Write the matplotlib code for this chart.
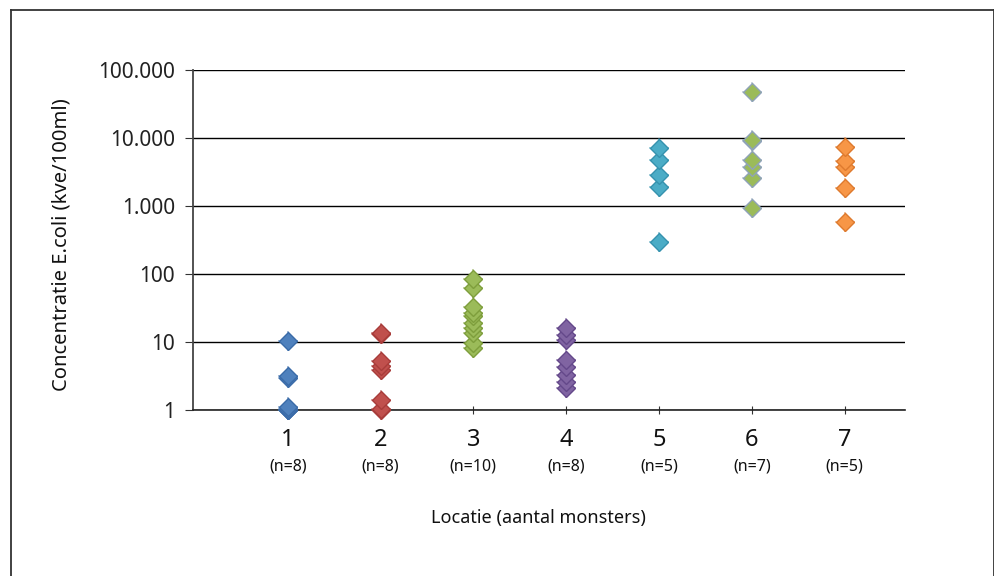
import matplotlib
matplotlib.use("Agg")
import matplotlib.pyplot as plt
from matplotlib.lines import Line2D
from matplotlib.ticker import FixedLocator, NullLocator

# values (kve/100ml)
loc1 = [1.0, 1.0, 1.0, 1.05, 1.1, 3.0, 3.2, 10.5]
loc2 = [1.0, 1.05, 1.4, 3.9, 4.5, 5.2, 13.0, 13.5]
loc3 = [8.3, 9.8, 13.5, 16, 19, 24, 27, 33, 62, 85]
loc4 = [2.1, 2.6, 3.3, 4.3, 5.4, 10.7, 12.5, 16]
loc5 = [295, 1900, 2850, 4700, 7100]
loc6 = [930, 2600, 3700, 4700, 9000, 9500, 47000]
loc7 = [580, 1850, 3700, 4600, 7300]
series = [loc1, loc2, loc3, loc4, loc5, loc6, loc7]
counts = ["(n=8)", "(n=8)", "(n=10)", "(n=8)", "(n=5)", "(n=7)", "(n=5)"]
fills = ["#4F81BD", "#C0504D", "#9BBB59", "#8064A2", "#4BACC6", "#9BBB59", "#F79646"]
edges = ["#3A6BA8", "#A83C3A", "#7E9E3C", "#64488A", "#3592AE", "#8FA3B8", "#DE7A2E"]
yticks = [1, 10, 100, 1000, 10000, 100000]
ylabels = ["1", "10", "100", "1.000", "10.000", "100.000"]

plt.rcParams['font.family'] = ['Noto Sans', 'DejaVu Sans']

fig = plt.figure(figsize=(9.95, 5.76), dpi=100)
ax = fig.add_axes([0.194, 0.288, 0.7155, 0.5905])

for i, vals in enumerate(series):
    xs = [i + 1] * len(vals)
    ax.plot(xs, vals, linestyle='none', marker='+', markersize=14,
            markeredgewidth=1.2, color=edges[i], alpha=0.55, zorder=3,
            clip_on=False)
    ax.plot(xs, vals, linestyle='none', marker='D', markersize=9.5,
            markerfacecolor=fills[i], markeredgecolor=edges[i],
            markeredgewidth=1.0, zorder=4, clip_on=False)

ax.set_yscale('log')
ax.set_ylim(1, 100000)
ax.set_xlim(-0.02, 7.65)
ax.yaxis.set_major_locator(FixedLocator(yticks))
ax.yaxis.set_minor_locator(NullLocator())
ax.set_yticklabels(ylabels, fontsize=15, color='#222222')
ax.set_xticks(range(1, 8))
ax.set_xticklabels([])
ax.tick_params(axis='x', direction='inout', length=6, color='#333333')
ax.tick_params(axis='y', direction='out', length=6, color='#333333', pad=7)
ax.grid(axis='y', color='black', linewidth=1.0)
ax.set_axisbelow(True)
for s in ['top', 'right']:
    ax.spines[s].set_visible(False)
ax.spines['bottom'].set_color('#222222')
ax.spines['bottom'].set_linewidth(1.2)
ax.spines['left'].set_color('#444444')
ax.spines['left'].set_linewidth(1.3)

for i in range(7):
    ax.text(i + 1, -0.088, str(i + 1), transform=ax.get_xaxis_transform(),
            ha='center', va='center', fontsize=17, color='#111111')
    ax.text(i + 1, -0.165, counts[i], transform=ax.get_xaxis_transform(),
            ha='center', va='center', fontsize=11.5, color='#111111')

fig.text(0.541, 0.1, "Locatie (aantal monsters)", ha='center', va='center',
         fontsize=13, color='#111111')
fig.text(0.062, 0.575, "Concentratie E.coli (kve/100ml)", ha='center',
         va='center', rotation=90, fontsize=14.5, color='#111111')

# outer frame
fig.add_artist(Line2D([0.011, 0.011], [0.0, 0.983], color='#333333', lw=1.3))
fig.add_artist(Line2D([0.011, 0.9985], [0.983, 0.983], color='#333333', lw=1.3))
fig.add_artist(Line2D([0.9985, 0.9985], [0.0, 0.983], color='#333333', lw=1.3))

fig.savefig("out.png", dpi=100)
